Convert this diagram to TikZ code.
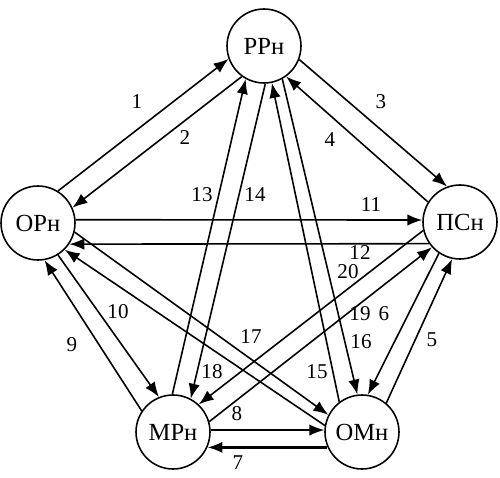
\documentclass[tikz,border=0pt]{standalone}
\usepackage{fontspec}
\setmainfont{Liberation Serif}
\usetikzlibrary{arrows.meta}

\begin{document}
\begin{tikzpicture}[
  x=0.02cm, y=-0.02cm,
  unit/.style={circle, draw, line width=0.9pt, minimum size=1.48cm, inner sep=0pt, font=\fontsize{14}{16}\selectfont},
  arrow/.style={-{Latex[length=8.5pt,width=6.5pt]}, line width=0.9pt},
  num/.style={inner sep=0pt, font=\fontsize{12}{14}\selectfont},
]
  \useasboundingbox (0,0) rectangle (500,477);

  \node[unit] (rrn) at (264,46) {РРн};
  \node[unit] (orn) at (38,223) {ОРн};
  \node[unit] (psn) at (460,222) {ПСн};
  \node[unit] (mrn) at (173,432) {МРн};
  \node[unit] (omn) at (362,432) {ОМн};

  % outer ring
  \draw[arrow] (orn.58) -- (rrn.200);
  \draw[arrow] (rrn.234) -- (orn.24);
  \draw[arrow] (rrn.339) -- (psn.110);
  \draw[arrow] (psn.148) -- (rrn.306);
  \draw[arrow] (omn.50) -- (psn.258);
  \draw[arrow] (psn.236) -- (omn.81);
  \draw[arrow, line width=1.3pt] (omn.204) -- (mrn.336);
  \draw[arrow] (mrn.3) -- (omn.177);
  \draw[arrow] (mrn.146) -- (orn.280);
  \draw[arrow] (orn.302) -- (mrn.112);

  % inner star
  \draw[arrow] (orn.5) -- (psn.177);
  \draw[arrow] (psn.215) -- (orn.326);
  \draw[arrow] (mrn.91) -- (rrn.241);
  \draw[arrow] (rrn.272) -- (mrn.62);
  \draw[arrow] (omn.127) -- (rrn.282);
  \draw[arrow] (rrn.299) -- (omn.97);
  \draw[arrow] (orn.346) -- (omn.153);
  \draw[arrow] (omn.170) -- (orn.315);
  \draw[arrow] (mrn.16) -- (psn.222);
  \draw[arrow] (psn.193) -- (mrn.47);

  % numbers
  \node[num] (n1) at (137,102) {1};
  \node[num] (n2) at (185,138) {2};
  \node[num] (n3) at (381,102) {3};
  \node[num] (n4) at (330,140) {4};
  \node[num] (n5) at (432,340) {5};
  \node[num] (n6) at (384,314) {6};
  \node[num] (n7) at (238,463) {7};
  \node[num] (n8) at (237,414) {8};
  \node[num] (n9) at (72,345) {9};
  \node[num] (n10) at (118,312) {10};
  \node[num] (n11) at (371,205) {11};
  \node[num] (n12) at (360,253) {12};
  \node[num] (n13) at (202,195) {13};
  \node[num] (n14) at (255,195) {14};
  \node[num] (n15) at (317,372) {15};
  \node[num] (n16) at (361,342) {16};
  \node[num] (n17) at (251,337) {17};
  \node[num] (n18) at (212,372) {18};
  \node[num] (n19) at (360,314) {19};
  \node[num] (n20) at (348,272) {20};

\end{tikzpicture}
\end{document}
